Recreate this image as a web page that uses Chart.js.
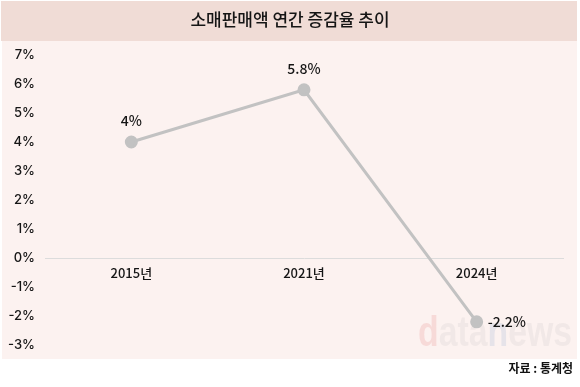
<!DOCTYPE html>
<html>
<head>
<meta charset="utf-8">
<script src="https://cdn.jsdelivr.net/npm/chart.js@4"></script>
<style>
  html, body { margin: 0; padding: 0; background: #fff; }
  #wrap { width: 580px; height: 387px; position: relative; }
</style>
</head>
<body>
<div id="wrap"><canvas id="chart" width="580" height="387"></canvas></div>
<script>
// Data
const years = ['2015년', '2021년', '2024년'];
const growth = [4, 5.8, -2.2];
const valueLabels = ['4%', '5.8%', '-2.2%'];
const yTicks = [7, 6, 5, 4, 3, 2, 1, 0, -1, -2, -3];

const titleText = '소매판매액 연간 증감율 추이';
const sourceText = '자료 : 통계청';

const FONT = "'Noto Sans CJK KR', 'Noto Sans', sans-serif";

// Backgrounds, title, watermark, source
const frame = {
  id: 'frame',
  beforeDraw(chart) {
    const ctx = chart.ctx;
    ctx.save();
    ctx.fillStyle = '#ffffff';
    ctx.fillRect(0, 0, chart.width, chart.height);
    ctx.fillStyle = '#f0dcd6';
    ctx.fillRect(1, 1, 576, 40);
    ctx.fillStyle = '#fcf2f0';
    ctx.fillRect(2, 41, 575, 318);

    ctx.fillStyle = '#151515';
    ctx.font = "500 17px " + FONT;
    ctx.textAlign = 'center';
    ctx.textBaseline = 'middle';
    ctx.fillText(titleText, 290, 20);

    // faint watermark, squeezed to its width in the picture
    ctx.font = "bold 42px 'Liberation Sans', Arial, sans-serif";
    ctx.textAlign = 'left';
    ctx.textBaseline = 'alphabetic';
    const parts = [['d', 'rgba(225,110,110,0.18)'], ['ata', 'rgba(170,170,170,0.13)'],
                   ['n', 'rgba(120,150,200,0.16)'], ['ews', 'rgba(170,170,170,0.13)']];
    const full = ctx.measureText('datanews').width;
    const sx = 154 / full;
    ctx.translate(418, 346);
    ctx.scale(sx, 1);
    let x = 0;
    parts.forEach(([t, c]) => {
      ctx.fillStyle = c;
      ctx.fillText(t, x, 0);
      x += ctx.measureText(t).width;
    });
    ctx.setTransform(1, 0, 0, 1, 0, 0);

    ctx.fillStyle = '#111';
    ctx.font = "bold 12px " + FONT;
    ctx.textAlign = 'right';
    ctx.textBaseline = 'middle';
    ctx.fillText(sourceText, 573, 368);
    ctx.restore();
  }
};

// value labels above / beside points
const valueText = {
  id: 'valueText',
  afterDatasetsDraw(chart) {
    const ctx = chart.ctx;
    const pts = chart.getDatasetMeta(0).data;
    ctx.save();
    ctx.fillStyle = '#151515';
    ctx.font = "500 14px " + FONT;
    ctx.textBaseline = 'middle';
    pts.forEach((p, i) => {
      if (i === pts.length - 1) {
        ctx.textAlign = 'left';
        ctx.fillText(valueLabels[i], p.x + 11, p.y);
      } else {
        ctx.textAlign = 'center';
        ctx.fillText(valueLabels[i], p.x, p.y - 21);
      }
    });
    ctx.restore();
  }
};

new Chart(document.getElementById('chart'), {
  type: 'line',
  data: {
    labels: years,
    datasets: [{
      data: growth,
      borderColor: '#c2c2c2',
      backgroundColor: '#c2c2c2',
      borderWidth: 3,
      pointRadius: 5,
      pointHoverRadius: 5,
      tension: 0
    }]
  },
  options: {
    responsive: false,
    animation: false,
    events: [],
    layout: { padding: { top: 55, bottom: 42, left: 0, right: 17 } },
    plugins: { legend: { display: false }, tooltip: { enabled: false } },
    scales: {
      x: {
        position: { y: 0 },
        offset: true,
        grid: { display: false, drawTicks: false },
        border: { display: true, color: '#dcdcdc', width: 1 },
        ticks: { color: '#151515', font: { family: FONT, size: 13, weight: 500 }, padding: 7 }
      },
      y: {
        min: -3,
        max: 7,
        afterFit(scale) { scale.width = 45; },
        afterBuildTicks(scale) { scale.ticks = yTicks.map(v => ({ value: v })); },
        grid: { display: false, drawTicks: false },
        border: { display: false },
        ticks: {
          color: '#151515',
          padding: 10,
          font: { family: "Inter, 'Noto Sans', sans-serif", size: 13, weight: 500 },
          callback: v => v + '%'
        }
      }
    }
  },
  plugins: [frame, valueText]
});
</script>
</body>
</html>
